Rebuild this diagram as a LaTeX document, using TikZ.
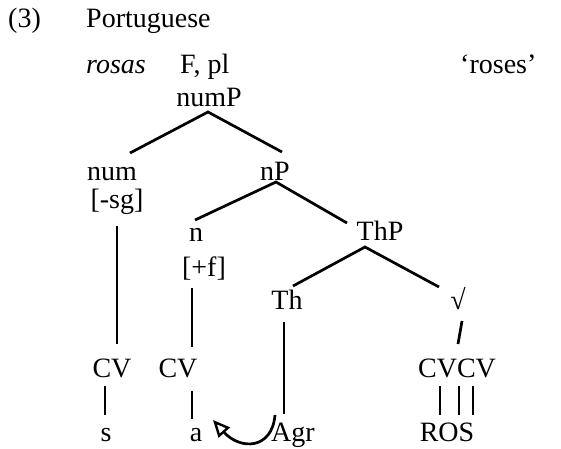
\documentclass[tikz,border=0pt]{standalone}
\usepackage{fontspec}
\setmainfont{Liberation Serif}
\usetikzlibrary{arrows.meta}
\begin{document}
\begin{tikzpicture}[x=1pt,y=-1pt,
  lbl/.style={anchor=base,inner sep=0pt,font=\fontsize{28}{34}\selectfont},
  lblw/.style={lbl,anchor=base west},
  edge/.style={line width=2.7pt}]
\useasboundingbox[fill=white] (0,0) rectangle (561,448);
% header
\node[lblw] (ex) at (8,27) {(3)};
\node[lblw] (lang) at (86,27) {Portuguese};
\node[lblw] (word) at (86,73) {\itshape rosas};
\node[lblw] (feat) at (180,73) {F, pl};
\node[lblw] (gloss) at (460,73) {‘roses’};
% tree labels
\node[lbl] (numP) at (209,106) {numP};
\node[lbl] (num) at (112,180) {num};
\node[lbl] (nP) at (275,180) {nP};
\node[lbl] (sg) at (117,208) {[-sg]};
\node[lbl] (n) at (196,241) {n};
\node[lbl] (ThP) at (380,240) {ThP};
\node[lbl] (f) at (204,276) {[+f]};
\node[lbl] (Th) at (287,309) {Th};
\node[lbl] (root) at (458,309) {√};
\node[lbl] (cv1) at (112,377) {CV};
\node[lbl] (cv2) at (178,377) {CV};
\node[lbl] (cvcv) at (457,377) {CVCV};
\node[lbl] (s) at (106,441) {s};
\node[lbl] (a) at (196,441) {a};
\node[lbl] (Agr) at (293,441) {Agr};
\node[lbl] (ROS) at (447,441) {ROS};
% branch points
\coordinate (numPb) at (208,112);
\coordinate (numt) at (130,153);
\coordinate (nPt) at (282,152);
\coordinate (nPb) at (276,182);
\coordinate (nt) at (195,220);
\coordinate (ThPt) at (347,223);
\coordinate (ThPb) at (365,247);
\coordinate (Tht) at (293,286);
\coordinate (roott) at (439,287);
% vertical association line ends
\coordinate (sgb) at (117,226);  \coordinate (cv1t) at (117,344);
\coordinate (fb) at (192,288);   \coordinate (cv2t) at (192,347);
\coordinate (Thb) at (284,322);  \coordinate (Agrt) at (284,414);
\coordinate (rootb) at (462,321); \coordinate (cvcvt) at (458,344);
\coordinate (cv1b) at (105,386); \coordinate (st) at (105,415);
\coordinate (cv2b) at (192,391); \coordinate (at) at (192,419);
\coordinate (c1b) at (440,386);  \coordinate (R1t) at (440,415);
\coordinate (c2b) at (459,386);  \coordinate (R2t) at (459,415);
\coordinate (c3b) at (473,386);  \coordinate (R3t) at (473,415);
\coordinate (arrS) at (275,415);
\coordinate (arrE) at (213,420);
% tree edges
\draw[edge] (numt) -- (numPb) -- (nPt);
\draw[edge] (nt) -- (nPb) -- (ThPt);
\draw[edge] (Tht) -- (ThPb) -- (roott);
\draw[edge] (sgb) -- (cv1t);
\draw[edge] (fb) -- (cv2t);
\draw[edge] (Thb) -- (Agrt);
\draw[edge] (rootb) -- (cvcvt);
\draw[edge] (cv1b) -- (st);
\draw[edge] (cv2b) -- (at);
\draw[edge] (c1b) -- (R1t);
\draw[edge] (c2b) -- (R2t);
\draw[edge] (c3b) -- (R3t);
% arrow
\draw[edge,-{Triangle[open,length=17pt,width=15pt,line width=2.4pt]}]
  (arrS) .. controls (272,450) and (240,450) .. (arrE);
\end{tikzpicture}
\end{document}
